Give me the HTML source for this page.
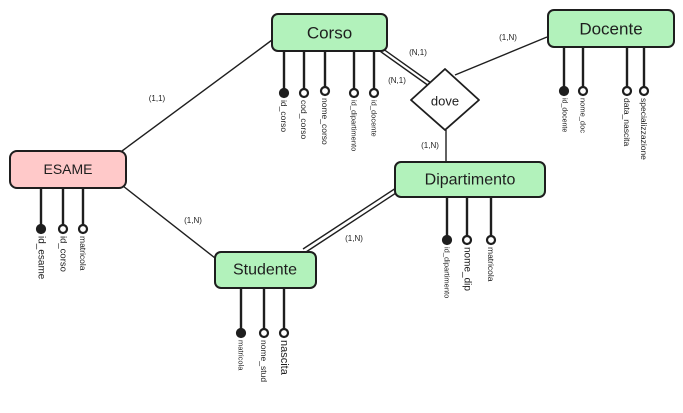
<!DOCTYPE html>
<html><head><meta charset="utf-8"><style>
html,body{margin:0;padding:0;background:#fff;}
svg{display:block;}
text{font-family:"Comic Sans MS","Liberation Sans",sans-serif;fill:#1e1e1e;}
.t{font-size:15px;text-anchor:middle;dominant-baseline:central;}
.a{font-size:8.5px;dominant-baseline:central;}
.c{font-size:8px;text-anchor:middle;}
.box{stroke:#1e1e1e;stroke-width:2;}
.ln{stroke:#1e1e1e;stroke-width:1.4;fill:none;}
.at{stroke:#1e1e1e;stroke-width:2.4;}
</style></head><body>
<svg width="683" height="413" viewBox="0 0 683 413">
<rect width="683" height="413" fill="#fff"/>
<!-- connectors -->
<line class="ln" x1="122" y1="151" x2="272" y2="40"/>
<line class="ln" x1="123" y1="186" x2="215" y2="258"/>
<line class="ln" x1="303" y1="249" x2="396" y2="188"/>
<line class="ln" x1="306" y1="252" x2="399" y2="191"/>
<line class="ln" x1="377" y1="49" x2="429" y2="86"/>
<line class="ln" x1="379" y1="46" x2="431" y2="83"/>
<line class="ln" x1="455" y1="75" x2="547" y2="37"/>
<line class="ln" x1="446" y1="130" x2="446" y2="162"/>
<text class="c" x="157" y="101">(1,1)</text>
<text class="c" x="193" y="223">(1,N)</text>
<text class="c" x="354" y="241">(1,N)</text>
<text class="c" x="418" y="55">(N,1)</text>
<text class="c" x="397" y="83">(N,1)</text>
<text class="c" x="508" y="40">(1,N)</text>
<text class="c" x="430" y="148">(1,N)</text>
<!-- diamond -->
<path d="M445 69 L479 100 L445 130 L411 100 Z" fill="#fff" stroke="#1e1e1e" stroke-width="1.8" stroke-linejoin="round"/>
<text class="t" x="445" y="101" style="font-size:13px">dove</text>
<!-- attributes -->
<g class="at">
<line x1="284" y1="51" x2="284" y2="93"/><line x1="304" y1="51" x2="304" y2="93"/><line x1="325" y1="51" x2="325" y2="91"/><line x1="354" y1="51" x2="354" y2="93"/><line x1="374" y1="51" x2="374" y2="93"/>
<line x1="564" y1="47" x2="564" y2="91"/><line x1="583" y1="47" x2="583" y2="91"/><line x1="627" y1="47" x2="627" y2="91"/><line x1="644" y1="47" x2="644" y2="91"/>
<line x1="41" y1="188" x2="41" y2="229"/><line x1="63" y1="188" x2="63" y2="229"/><line x1="83" y1="188" x2="83" y2="229"/>
<line x1="241" y1="288" x2="241" y2="333"/><line x1="264" y1="288" x2="264" y2="333"/><line x1="284" y1="288" x2="284" y2="333"/>
<line x1="447" y1="197" x2="447" y2="240"/><line x1="467" y1="197" x2="467" y2="240"/><line x1="491" y1="197" x2="491" y2="240"/>
</g>
<g stroke="#1e1e1e" stroke-width="2.2" fill="#fff">
<circle cx="284" cy="93" r="4" fill="#1e1e1e"/><circle cx="304" cy="93" r="4"/><circle cx="325" cy="91" r="4"/><circle cx="354" cy="93" r="4"/><circle cx="374" cy="93" r="4"/>
<circle cx="564" cy="91" r="4" fill="#1e1e1e"/><circle cx="583" cy="91" r="4"/><circle cx="627" cy="91" r="4"/><circle cx="644" cy="91" r="4"/>
<circle cx="41" cy="229" r="4" fill="#1e1e1e"/><circle cx="63" cy="229" r="4"/><circle cx="83" cy="229" r="4"/>
<circle cx="241" cy="333" r="4" fill="#1e1e1e"/><circle cx="264" cy="333" r="4"/><circle cx="284" cy="333" r="4"/>
<circle cx="447" cy="240" r="4" fill="#1e1e1e"/><circle cx="467" cy="240" r="4"/><circle cx="491" cy="240" r="4"/>
</g>
<g class="a">
<text transform="translate(284,100) rotate(90)">id_corso</text>
<text transform="translate(304,100) rotate(90)">cod_corso</text>
<text transform="translate(325,98) rotate(90)">nome_corso</text>
<text transform="translate(354,100) rotate(90)" style="font-size:7.5px">id_dipartimento</text>
<text transform="translate(374,100) rotate(90)" style="font-size:7.5px">id_docente</text>
<text transform="translate(564,98) rotate(90)" style="font-size:7px">id_docente</text>
<text transform="translate(583,98) rotate(90)" style="font-size:7.5px">nome_doc</text>
<text transform="translate(627,98) rotate(90)">data_nascita</text>
<text transform="translate(644,98) rotate(90)">specializzazione</text>
<text transform="translate(41,236) rotate(90)" style="font-size:10px">id_esame</text>
<text transform="translate(63,236) rotate(90)" style="font-size:9.5px">id_corso</text>
<text transform="translate(83,236) rotate(90)">matricola</text>
<text transform="translate(241,340) rotate(90)" style="font-size:7.5px">matricola</text>
<text transform="translate(264,340) rotate(90)">nome_stud</text>
<text transform="translate(284,340) rotate(90)" style="font-size:11px">nascita</text>
<text transform="translate(447,247) rotate(90)" style="font-size:7.5px">id_dipartimento</text>
<text transform="translate(467,247) rotate(90)" style="font-size:10px">nome_dip</text>
<text transform="translate(491,247) rotate(90)">matricola</text>
</g>
<!-- entities -->
<rect class="box" x="272" y="14" width="115" height="37" rx="6" fill="#b2f2bb"/>
<text class="t" x="329.5" y="33" style="font-size:17px">Corso</text>
<rect class="box" x="548" y="10" width="126" height="37" rx="6" fill="#b2f2bb"/>
<text class="t" x="611" y="29" style="font-size:17px">Docente</text>
<rect class="box" x="10" y="151" width="116" height="37" rx="7" fill="#ffc9c9"/>
<text class="t" x="68" y="169" style="font-size:14px">ESAME</text>
<rect class="box" x="215" y="252" width="101" height="36" rx="6" fill="#b2f2bb"/>
<text class="t" x="265" y="270" style="font-size:16px">Studente</text>
<rect class="box" x="395" y="162" width="150" height="35" rx="6" fill="#b2f2bb"/>
<text class="t" x="470" y="180" style="font-size:16px">Dipartimento</text>
</svg>
</body></html>
